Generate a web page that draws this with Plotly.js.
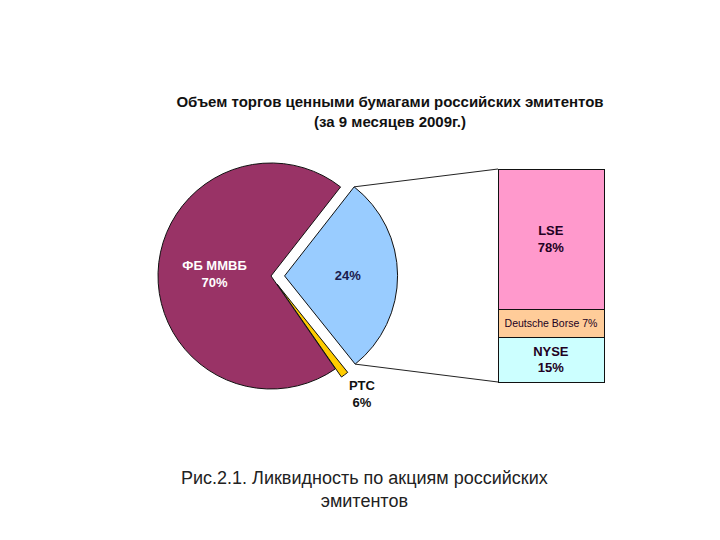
<!DOCTYPE html>
<html><head><meta charset="utf-8">
<script src="https://cdn.plot.ly/plotly-3.0.1.min.js"></script>
<style>html,body{margin:0;padding:0;background:#fff}#chart{width:720px;height:540px}</style>
</head><body><div id="chart"></div>
<script>
// ---- data (slice / segment sizes as drawn, label texts as printed) ----
const pieCategories = ["Прочие биржи", "РТС", "ФБ ММВБ"];
const pieShares = [28.7, 1.1, 70.2];
const pieLabels = ["24%", "РТС<br>6%", "ФБ ММВБ<br>70%"];
const barCategories = ["NYSE", "Deutsche Borse", "LSE"];
const barShares = [21.1, 13.1, 65.8];
const barLabels = ["NYSE<br>15%", "Deutsche Borse 7%", "LSE<br>78%"];
const titleText = "Объем торгов ценными бумагами российских эмитентов<br>(за 9 месяцев 2009г.)";
const captionText = "Рис.2.1. Ликвидность по акциям российских<br>эмитентов";

// ---- style / layout ----
const W = 720, H = 540;
const pieColors = ["#99CCFF", "#FFCC00", "#993366"];
const pieTextColors = ["#1a1a4d", "#111111", "#ffffff"];
const piePull = [0.12, 0.09, 0];
const pieRotation = 38;
const pieDomX = [0.2006, 0.5522], pieDomY = [0.2545, 0.7233];
const barColors = ["#CCFFFF", "#FFCC99", "#FF99CC"];
const barFont = [13, 10.5, 13];
const FONT = "Liberation Sans, Arial, sans-serif";

// bar box in pixels (left, right, top, bottom) and a padding so borders are not clipped
const bL = 498, bR = 604, bT = 169, bB = 382, pad = 8;
const pxPerX = (bR - bL) / 1;           // bar width = 1 unit
const barDomX = [(bL - pad) / W, (bR + pad) / W];
const xRange = [-0.5 - pad / pxPerX, 0.5 + pad / pxPerX];
const totalBar = barShares.reduce((a, b) => a + b, 0);
const pxPerY = (bB - bT) / totalBar;
const barDomY = [1 - (bB + pad) / H, 1 - (bT - pad) / H];
const yRange = [-pad / pxPerY, totalBar + pad / pxPerY];

const pieTrace = {
  type: "pie", labels: pieCategories, values: pieShares, text: pieLabels,
  textinfo: "text", sort: false, direction: "clockwise", rotation: pieRotation,
  pull: piePull, domain: {x: pieDomX, y: pieDomY},
  marker: {colors: pieColors, line: {color: "#111", width: 1}},
  textposition: ["inside", "none", "inside"], insidetextorientation: "horizontal",
  textfont: {family: FONT, size: 13, color: pieTextColors, weight: "bold"},
  showlegend: false, hoverinfo: "label+percent"
};

const barTraces = barCategories.map((c, i) => ({
  type: "bar", x: [0], y: [barShares[i]], name: c, text: [barLabels[i]],
  textposition: "inside", insidetextanchor: "middle", textangle: 0,
  textfont: {family: FONT, size: barFont[i], color: "#220022", weight: i === 1 ? "normal" : "bold"},
  marker: {color: barColors[i], line: {color: "#111", width: 1}},
  width: 1, showlegend: false, hoverinfo: "name+y"
}));

// connector lines from the pulled slice to the bar
const cx = W * (pieDomX[0] + pieDomX[1]) / 2;
const cy = H * (1 - (pieDomY[0] + pieDomY[1]) / 2);
const r = Math.min(W * (pieDomX[1] - pieDomX[0]), H * (pieDomY[1] - pieDomY[0])) / 2 / (1 + Math.max(...piePull));
const tot = pieShares.reduce((a, b) => a + b, 0);
const d2r = Math.PI / 180;
const a0 = pieRotation * d2r, a1 = a0 + 2 * Math.PI * pieShares[0] / tot, am = (a0 + a1) / 2;
const ax = cx + piePull[0] * r * Math.sin(am), ay = cy - piePull[0] * r * Math.cos(am);
const topC = [ax + r * Math.sin(a0), ay - r * Math.cos(a0)];
const botC = [ax + r * Math.sin(a1), ay - r * Math.cos(a1)];
const px = x => x / W, py = y => 1 - y / H;
const shapes = [
  {type: "line", xref: "paper", yref: "paper", x0: px(topC[0]), y0: py(topC[1]), x1: px(bL), y1: py(bT), line: {color: "#222", width: 1}},
  {type: "line", xref: "paper", yref: "paper", x0: px(botC[0]), y0: py(botC[1]), x1: px(bL), y1: py(bB), line: {color: "#222", width: 1}}
];

const layout = {
  width: W, height: H, margin: {l: 0, r: 0, t: 0, b: 0},
  paper_bgcolor: "#fff", plot_bgcolor: "rgba(0,0,0,0)",
  barmode: "stack", bargap: 0, showlegend: false,
  title: {text: titleText, x: 390 / W, xanchor: "center", y: 1 - 107 / H, yanchor: "middle",
          font: {family: FONT, size: 15, color: "#111", weight: "bold"}},
  xaxis: {domain: barDomX, range: xRange, visible: false, fixedrange: true},
  yaxis: {domain: barDomY, range: yRange, visible: false, fixedrange: true},
  shapes: shapes,
  annotations: [
    {text: pieLabels[1], xref: "paper", yref: "paper", x: px(362), y: py(394),
     xanchor: "center", yanchor: "middle", showarrow: false, align: "center",
     font: {family: FONT, size: 13, color: pieTextColors[1], weight: "bold"}},
    {text: captionText, xref: "paper", yref: "paper", x: px(364), y: py(489),
     xanchor: "center", yanchor: "middle", showarrow: false, align: "center",
     font: {family: FONT, size: 18, color: "#222"}}
  ]
};

Plotly.newPlot("chart", [pieTrace, ...barTraces], layout, {staticPlot: true});
</script></body></html>
